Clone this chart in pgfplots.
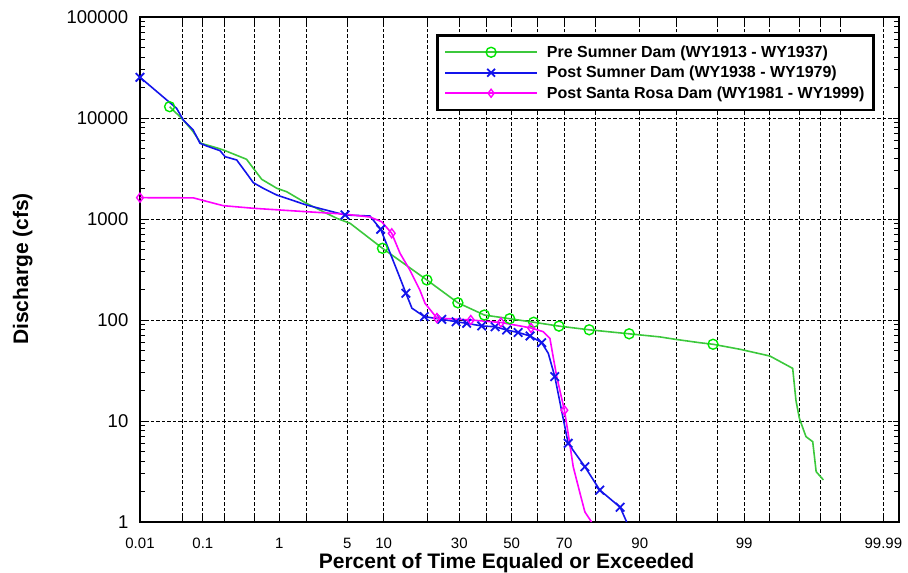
\documentclass[border=0pt]{standalone}
\usepackage{fontspec}
\setmainfont{Liberation Sans}
\usepackage{pgfplots}
\usepackage{pgfplotstable}
\pgfplotsset{compat=1.18}

\definecolor{lgreen}{RGB}{60,200,60}
\definecolor{mgreen}{RGB}{0,230,0}
\definecolor{lblue}{RGB}{20,20,235}
\definecolor{lpink}{RGB}{255,0,255}

% normal probability scale: percent -> standard normal quantile (A&S 26.2.23)
\pgfmathdeclarefunction{pbt}{1}{\pgfmathparse{sqrt(-2*ln(min(#1,100-#1)/100))}}
\pgfmathdeclarefunction{probit}{1}{\pgfmathparse{ifthenelse(#1<50,-1,1)*(pbt(#1)-(2.515517+0.802853*pbt(#1)+0.010328*pbt(#1)^2)/(1+1.432788*pbt(#1)+0.189269*pbt(#1)^2+0.001308*pbt(#1)^3))}}

% Pre Sumner Dam
\pgfplotstableread{
p Q
0.031 12940
0.051 9550
0.072 7310
0.094 5620
0.167 5010
0.207 4750
0.40 3900
0.487 3180
0.62 2470
0.94 2014
1.22 1862
2.0 1430
4.0 1016
5.3 906
9.8 513
19.8 249
29.5 148
39.2 112
49.2 103
58.7 95
68.2 87
78.1 80
88.0 73
93.1 68
94.9 64.4
97.0 59.6
97.8 57.5
98.88 51.3
99.51 44.0
99.753 33.2
99.777 16
99.80 10.6
99.838 7.0
99.870 6.24
99.884 3.15
99.909 2.61
}\preSumner

% Post Sumner Dam
\pgfplotstableread{
p Q
0.01 25300
0.040 12470
0.051 9550
0.072 7600
0.091 5620
0.114 5280
0.176 4750
0.207 4140
0.297 3840
0.40 2830
0.487 2290
0.647 2014
0.936 1729
2.0 1376
4.77 1096
7.8 1071
9.5 791
12.8 290
14.5 184
15.9 131
19.1 108
24.2 101.6
28.9 96.2
32.6 92.7
38.2 87.3
43.4 85.8
48.0 79.6
52.6 75.2
57.3 69.5
61.8 59.6
64.3 46.8
66.7 27.5
69.1 12.8
71.4 6.01
76.8 3.53
81.1 2.07
86.1 1.40
87.5 1.0
}\postSumner

% Post Santa Rosa Dam
\pgfplotstableread{
p Q
0.01 1626
0.072 1620
0.158 1408
0.196 1355
0.487 1277
2.0 1181
4.6 1121
7.8 1047
9.66 940
11.5 722
13.2 457
15.4 313
17.9 198
19.3 146
22.7 104.7
34.1 100
45.7 94.5
57.7 83.4
62.4 76.6
64.9 65.9
66.1 43.3
67.4 27.5
70.1 12.8
71.4 7.55
73.1 3.53
75.3 1.92
76.8 1.26
78.8 1.0
}\postSantaRosa

\begin{document}
\begin{tikzpicture}
\begin{axis}[
  scale only axis,
  width=759pt, height=505pt,
  clip=false,
  x filter/.expression={probit(x)},
  xmin=-3.719, xmax=3.875,
  ymode=log, ymin=1, ymax=100000,
  xtick={-3.7190,-3.2905,-3.0902,-2.8782,-2.5758,-2.3263,-2.0537,-1.6449,-1.2816,-0.8416,-0.5244,-0.2533,0,
         0.2533,0.5244,0.8416,1.2816,1.6449,2.0537,2.3263,2.5758,2.8782,3.0902,3.2905,3.7190},
  xticklabels={0.01,,0.1,,,1,,5,10,,30,,50,,70,,90,,,99,,,,,99.99},
  ytick={1,10,100,1000,10000,100000},
  log ticks with fixed point,
  /pgf/number format/1000 sep={},
  /pgf/number format/assume math mode=true,
  grid=major,
  major grid style={black, dash pattern=on 3.5pt off 2pt, line width=0.9pt},
  axis line style={line width=1.2pt},
  every tick/.style={black, line width=0.9pt},
  major tick length=6pt, minor tick length=5pt,
  xticklabel style={font=\fontsize{15}{17}\selectfont, anchor=base, yshift=-26pt},
  yticklabel style={font=\fontsize{18.5}{20}\selectfont, anchor=east, inner sep=0pt, xshift=-11.5pt},
  xlabel={Percent of Time Equaled or Exceeded},
  xlabel style={at={(axis description cs:0.483,-0.0911)}, anchor=base, font=\fontsize{21}{24}\selectfont\bfseries},
  ylabel={Discharge (cfs)},
  ylabel style={at={(axis description cs:-0.1545,0.501)}, anchor=center, font=\fontsize{21}{24}\selectfont\bfseries},
  legend cell align=left,
  legend image code/.code={\draw[mark repeat=2,mark phase=2,#1] plot coordinates {(0pt,0pt) (46pt,0pt) (92pt,0pt)};},
  legend style={at={(rel axis cs:0.39,0.966)}, anchor=north west, draw=black, line width=2.5pt, fill=white,
    font=\fontsize{16}{18}\selectfont\bfseries, inner xsep=7pt, inner ysep=8.3pt, row sep=3.4pt,
    nodes={inner sep=2pt},
    /tikz/every odd column/.append style={column sep=7pt}},
]
\addplot[lgreen, line width=1.6pt, mark=o, mark size=5pt, mark options={mgreen, solid, line width=1.4pt},
  mark indices={1,15,16,17,18,19,20,21,22,23,27}, forget plot] table[x=p, y=Q] {\preSumner};
\addplot[lblue, line width=1.6pt, mark=x, mark size=6pt, mark options={lblue, solid, line width=1.8pt},
  mark indices={1,15,17,19,21,22,23,24,25,26,27,28,29,30,32,34,35,36,37}, forget plot] table[x=p, y=Q] {\postSumner};
\addplot[lpink, line width=1.6pt, mark=diamond, mark size=4.5pt, mark options={lpink, solid, line width=1.4pt},
  mark indices={1,10,15,16,17,18,23}, forget plot] table[x=p, y=Q] {\postSantaRosa};

\addlegendimage{lgreen, line width=1.7pt, mark=o, mark size=5pt, mark options={mgreen, line width=1.4pt}}
\addlegendentry{Pre Sumner Dam (WY1913 - WY1937)}
\addlegendimage{lblue, line width=1.7pt, mark=x, mark size=5.5pt, mark options={lblue, line width=1.8pt}}
\addlegendentry{Post Sumner Dam (WY1938 - WY1979)}
\addlegendimage{lpink, line width=1.7pt, mark=diamond, mark size=4pt, mark options={lpink, line width=1.4pt}}
\addlegendentry{Post Santa Rosa Dam (WY1981 - WY1999)}
\end{axis}
\pgfresetboundingbox
\useasboundingbox (-140pt,-51pt) rectangle (768pt,522pt);
\end{tikzpicture}
\end{document}
